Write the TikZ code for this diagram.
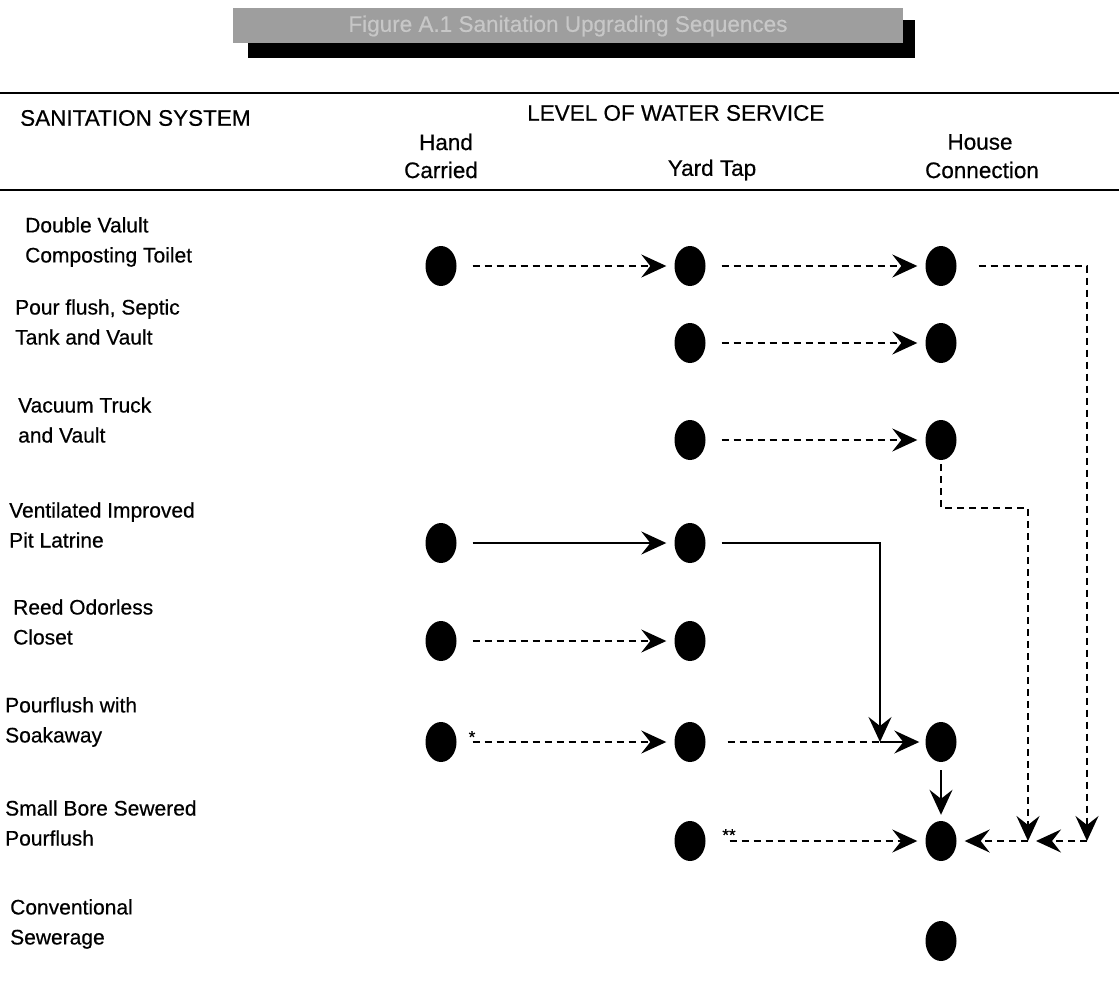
\documentclass[tikz,border=0pt]{standalone}
\usepackage{fontspec}
\setmainfont{Liberation Sans}[FakeBold=0.5]
\usetikzlibrary{arrows.meta,shapes.geometric}
\tikzstyle{dot}=[ellipse, fill=black, minimum width=31pt, minimum height=40pt, inner sep=0pt]
\tikzstyle{link}=[line width=2pt, dash pattern=on 7pt off 5pt]
\tikzstyle{pipe}=[line width=2pt]
\tikzstyle{tip}=[-{Stealth[length=25pt,width=23pt,inset=9pt]}]
\tikzstyle{gap}=[shorten <=16pt, shorten >=8pt]
\tikzstyle{sysname}=[anchor=west, align=left, inner sep=0pt, font=\fontsize{21}{30}\selectfont]
\tikzstyle{colhead}=[inner sep=0pt, font=\fontsize{22.5}{28}\selectfont]

\begin{document}
\begin{tikzpicture}[x=1pt, y=-1pt]
				\useasboundingbox (0,0) rectangle (1119,990);

				% title banner
				\fill[black] (248,20) rectangle (915,58);
				\fill[black!38] (233,8) rectangle (903,43);
				\node[colhead, text=black!22] (title) at (568,26) {Figure A.1 Sanitation Upgrading Sequences};

				% header
				\draw[line width=2.5pt] (0,93) -- (1119,93);
				\node[colhead, anchor=west] (sys) at (20,118) {SANITATION SYSTEM};
				\node[colhead, anchor=west] (lws) at (527,113) {LEVEL OF WATER SERVICE};
				\node[colhead] (hand) at (446,142) {Hand};
				\node[colhead] (carried) at (441,170) {Carried};
				\node[colhead] (yard) at (712,170) {Yard Tap};
				\node[colhead] (house) at (980,142) {House};
				\node[colhead] (conn) at (982,170) {Connection};
				\draw[line width=1.5pt] (0,190) -- (1119,190);

				% sanitation systems
				\node[sysname] (s1) at (25,242) {Double Valult\\Composting Toilet};
				\node[sysname] (s2) at (15,322) {Pour flush, Septic\\Tank and Vault};
				\node[sysname] (s3) at (18,420) {Vacuum Truck\\and Vault};
				\node[sysname] (s4) at (9,525) {Ventilated Improved\\Pit Latrine};
				\node[sysname] (s5) at (13,622) {Reed Odorless\\Closet};
				\node[sysname] (s6) at (5,722) {Pourflush with\\Soakaway};
				\node[sysname] (s7) at (5,823) {Small Bore Sewered\\Pourflush};
				\node[sysname] (s8) at (10,924) {Conventional\\Sewerage};

				% dots: hc = hand carried, yt = yard tap, hs = house connection
				\node[dot] (hc1) at (441,266) {};
				\node[dot] (yt1) at (690,266) {};
				\node[dot] (hs1) at (941,266) {};
				\node[dot] (yt2) at (690,343) {};
				\node[dot] (hs2) at (941,343) {};
				\node[dot] (yt3) at (690,440) {};
				\node[dot] (hs3) at (941,440) {};
				\node[dot] (hc4) at (441,543) {};
				\node[dot] (yt4) at (690,543) {};
				\node[dot] (hc5) at (441,641) {};
				\node[dot] (yt5) at (690,641) {};
				\node[dot] (hc6) at (441,742) {};
				\node[dot] (yt6) at (690,742) {};
				\node[dot] (hs6) at (941,742) {};
				\node[dot] (yt7) at (690,841) {};
				\node[dot] (hs7) at (941,841) {};
				\node[dot] (hs8) at (941,941) {};

				\coordinate (outA) at (1087,266);
				\coordinate (dropA) at (1087,841);
				\coordinate (kink) at (941,508);
				\coordinate (outB) at (1028,508);
				\coordinate (dropB) at (1028,841);
				\coordinate (turn) at (880,543);
				\coordinate (join) at (880,742);

				\node[inner sep=0pt, font=\fontsize{17}{17}\selectfont] (star) at (472,737) {*};
				\node[inner sep=0pt, font=\fontsize{17}{17}\selectfont] (stars) at (729,835) {**};

				\draw[link, tip, gap] (hc1) -- (yt1);
				\draw[link, tip, gap] (yt1) -- (hs1);
				\draw[link, tip, gap] (yt2) -- (hs2);
				\draw[link, tip, gap] (yt3) -- (hs3);
				\draw[pipe, tip, gap] (hc4) -- (yt4);
				\draw[link, tip, gap] (hc5) -- (yt5);
				\draw[link, tip, gap] (hc6) -- (yt6);
				\draw[link, tip, shorten <=24pt, shorten >=8pt] (yt7) -- (hs7);

				\draw[link, tip] ([xshift=22pt]hs1.east) -- (outA) -- (dropA);
				\draw[link, tip, shorten >=8pt] (dropA) -- (dropB);
				\draw[link, tip] ([yshift=-4pt]hs3.south) -- (kink) -- (outB) -- (dropB);
				\draw[link, tip, shorten >=8pt] (dropB) -- (hs7);

				\draw[pipe, tip] ([xshift=16pt]yt4.east) -- (turn) -- (join);
				\draw[link, shorten <=22pt] (yt6) -- (join);
				\draw[pipe, tip, shorten >=6pt] (join) -- (hs6);
				\draw[pipe, tip, shorten <=8pt, shorten >=6pt] (hs6) -- (hs7);
			\end{tikzpicture}
\end{document}
